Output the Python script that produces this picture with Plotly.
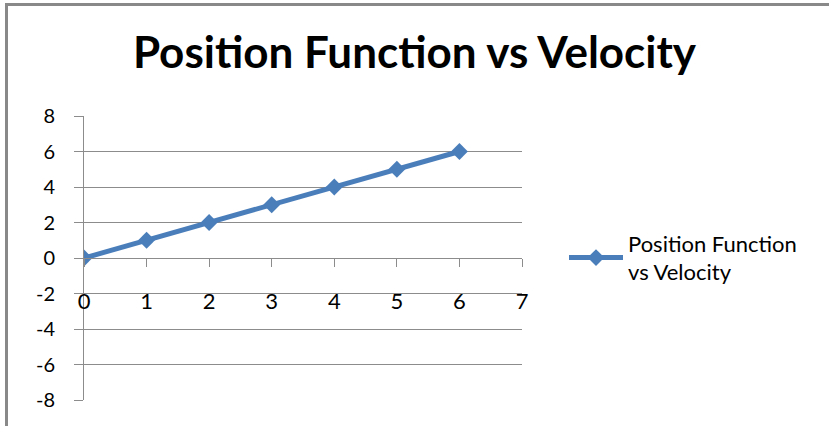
import plotly.graph_objects as go

# Data
x_vals = [0, 1, 2, 3, 4, 5, 6]
y_vals = [0, 1, 2, 3, 4, 5, 6]
series_name = "Position Function<br>vs Velocity"
title_text = "Position Function vs Velocity"
x_ticks = [0, 1, 2, 3, 4, 5, 6, 7]
y_ticks = [-8, -6, -4, -2, 0, 2, 4, 6, 8]
y_tick_labels = ["-8", "-6", "-4", "-2", "0", "2", "4", "6", "8"]

W, H = 829, 426
L, R, T, B = 84, 307, 116, 26
pw = W - L - R
ph = H - T - B

def px_to_paper_x(px):
    return (px - L) / pw

def px_to_paper_y(py):
    return (H - B - py) / ph

blue = "#4A7EBB"
grid = "#8C8C8C"

fig = go.Figure()
fig.add_trace(go.Scatter(
    x=x_vals, y=y_vals, mode="lines+markers", name=series_name,
    line=dict(color=blue, width=5),
    marker=dict(symbol="diamond", size=13, color=blue),
    showlegend=True,
))

fig.update_layout(
    width=W, height=H,
    margin=dict(l=L, r=R, t=T, b=B, autoexpand=False),
    paper_bgcolor="white", plot_bgcolor="white",
    font=dict(family="Lato", color="black"),
    title=dict(text=title_text, x=0.5, xref="container", xanchor="center",
               y=1 - 53 / H, yref="container", yanchor="middle",
               font=dict(family="Lato", size=44, color="black", weight="bold")),
    xaxis=dict(range=[0, 7], tickvals=x_ticks, anchor="free", position=0.5,
               showline=True, linecolor=grid, linewidth=1,
               ticks="outside", ticklen=8, tickcolor=grid,
               showgrid=False, zeroline=False, automargin=False,
               tickfont=dict(size=22), ticklabelstandoff=16),
    yaxis=dict(range=[-8, 8], tickvals=y_ticks, ticktext=y_tick_labels,
               showline=True, linecolor=grid, linewidth=1,
               ticks="outside", ticklen=9, tickcolor=grid,
               showgrid=True, gridcolor=grid, gridwidth=1, zeroline=False,
               automargin=False,
               tickfont=dict(size=20), ticklabelstandoff=15),
    legend=dict(x=px_to_paper_x(564), xanchor="left", y=0.5, yanchor="middle",
                font=dict(size=22, family="Lato"), itemwidth=54,
                bgcolor="rgba(0,0,0,0)"),
    shapes=[
        dict(type="line", xref="paper", yref="paper",
             x0=px_to_paper_x(5), x1=px_to_paper_x(829),
             y0=px_to_paper_y(4.5), y1=px_to_paper_y(4.5),
             line=dict(color="#898989", width=3)),
        dict(type="line", xref="paper", yref="paper",
             x0=px_to_paper_x(6.5), x1=px_to_paper_x(6.5),
             y0=px_to_paper_y(3), y1=px_to_paper_y(426),
             line=dict(color="#898989", width=3)),
    ],
)

fig.write_html("out.html", config={"displayModeBar": False},
               post_script="document.body.style.margin='0';")
